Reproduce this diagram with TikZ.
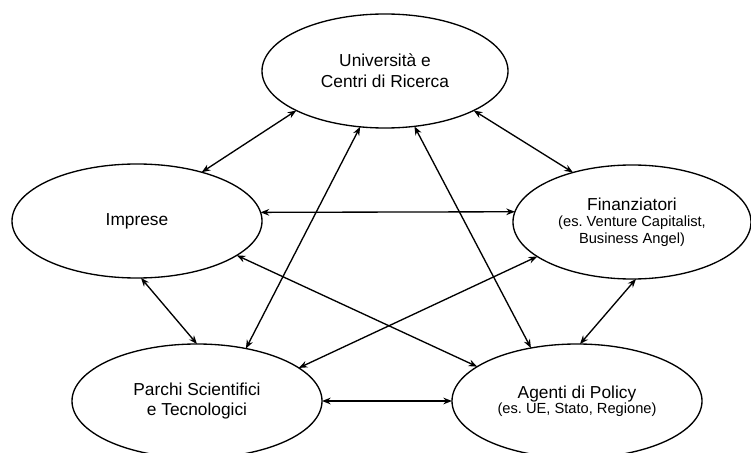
\documentclass[tikz,border=0pt]{standalone}
\usepackage{fontspec}
\setmainfont{Liberation Sans}
\usetikzlibrary{arrows.meta,shapes.geometric}
\newcommand{\detailtext}{\fontsize{11}{12.5}\selectfont}
\frenchspacing

\begin{document}
\begin{tikzpicture}[x=0.75pt,y=-0.75pt]

        \tikzset{
            actor/.style={draw, ellipse, line width=1pt, inner sep=0pt, outer sep=0pt,
                minimum width=187.5pt, minimum height=85.5pt, align=center,
                font=\fontsize{13}{15.5}\selectfont},
            link/.style={{Stealth[length=6.5pt,width=5pt]}-{Stealth[length=6.5pt,width=5pt]}, line width=1pt}
        }

        \useasboundingbox (0,0) rectangle (751,453);

        \node[actor, minimum width=184.5pt] (univ) at (385,71) {Università e\\Centri di Ricerca};
        \node[actor] (imprese) at (137,221) {Imprese};
        \node[actor, minimum width=178.5pt] (finanz) at (632,222)
            {Finanziatori\\[-3pt]\detailtext (es. Venture Capitalist,\\[-3.3pt]\detailtext Business Angel)};
        \node[actor] (parchi) at (197,401) {Parchi Scientifici\\e Tecnologici};
        \node[actor] (agenti) at (577,401) {Agenti di Policy\\[-4pt]\detailtext (es. UE, Stato, Regione)};

        \draw[link] (imprese.37.6) -- (univ.204.5);
        \draw[link] (univ.336.2) -- (finanz.140.2);
        \draw[link] (imprese.4.2) -- (finanz.175.7);
        \draw[link] (imprese.341.2) -- (agenti.161.2);
        \draw[link] (imprese.274.7) -- (parchi.90);
        \draw[link] (univ.246.1) -- (parchi.47.1);
        \draw[link] (univ.298.4) -- (agenti.131.8);
        \draw[link] (finanz.200) -- (parchi.18.4);
        \draw[link] (finanz.274.7) -- (agenti.87);
        \draw[link] (parchi.0) -- (agenti.180);

    \end{tikzpicture}
\end{document}
